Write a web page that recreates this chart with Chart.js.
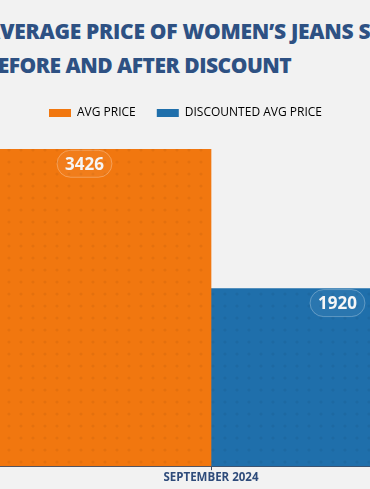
<!DOCTYPE html>
<html>
<head>
<meta charset="utf-8">
<script src="https://cdn.jsdelivr.net/npm/chart.js@4.4.1/dist/chart.umd.min.js"></script>
<style>
  html, body { margin: 0; padding: 0; width: 370px; height: 489px; overflow: hidden; background: #f2f2f2; }
  .title { position: absolute; margin: 0; white-space: nowrap;
           font-family: "Open Sans", sans-serif; font-weight: 800; font-size: 21px; line-height: 30px; color: #2e5183; }
  #t1 { left: -15px; top: 16px; letter-spacing: -0.28px; }
  #t2 { left: -16px; top: 50px; letter-spacing: -0.5px; }
  #wrap { position: absolute; left: -93px; top: 0; width: 557px; height: 489px; }
</style>
</head>
<body>
<div class="title" id="t1">AVERAGE PRICE OF WOMEN’S JEANS STYLES</div>
<div class="title" id="t2">BEFORE AND AFTER DISCOUNT</div>
<div id="wrap"><canvas id="chart"></canvas></div>
<script>
// chart data
const months = ["SEPTEMBER 2024"];
const seriesNames = ["AVG PRICE", "DISCOUNTED AVG PRICE"];
const avgPrice = [3426];
const discountedPrice = [1920];
const colors = ["#f1770f", "#1f6fab"];

// dotted fill like the original bars
function dotted(color) {
  const c = document.createElement("canvas");
  c.width = 12; c.height = 12;
  const g = c.getContext("2d");
  g.fillStyle = color;
  g.fillRect(0, 0, 12, 12);
  g.fillStyle = "rgba(0,0,0,0.05)";
  g.beginPath();
  g.arc(6, 6, 1.6, 0, Math.PI * 2);
  g.fill();
  return g.createPattern(c, "repeat");
}

// value pills near the top of each bar
const valuePills = {
  id: "valuePills",
  afterDatasetsDraw(chart) {
    const ctx = chart.ctx;
    ctx.save();
    ctx.font = "bold 17px 'Open Sans', sans-serif";
    ctx.textAlign = "center";
    ctx.textBaseline = "middle";
    chart.data.datasets.forEach((ds, i) => {
      chart.getDatasetMeta(i).data.forEach((bar, j) => {
        const txt = String(ds.data[j]);
        const w = ctx.measureText(txt).width + 16;
        const h = 27;
        const x = bar.x - w / 2, y = bar.y + 1;
        ctx.beginPath();
        ctx.roundRect(x, y, w, h, h / 2);
        ctx.fillStyle = "rgba(255,255,255,0.05)";
        ctx.fill();
        ctx.strokeStyle = "rgba(255,255,255,0.28)";
        ctx.lineWidth = 1;
        ctx.stroke();
        ctx.fillStyle = "#f6f6f6";
        ctx.fillText(txt, bar.x, y + h / 2 + 1);
      });
    });
    ctx.restore();
  }
};

new Chart(document.getElementById("chart"), {
  type: "bar",
  data: {
    labels: months,
    datasets: [
      { label: seriesNames[0], data: avgPrice, backgroundColor: dotted(colors[0]), borderWidth: 0 },
      { label: seriesNames[1], data: discountedPrice, backgroundColor: dotted(colors[1]), borderWidth: 0 }
    ]
  },
  plugins: [valuePills],
  options: {
    responsive: true,
    maintainAspectRatio: false,
    animation: false,
    layout: { padding: { top: 86, bottom: 3, left: 0, right: 0 } },
    datasets: { bar: { barPercentage: 1, categoryPercentage: 1 } },
    plugins: {
      tooltip: { enabled: false },
      legend: {
        labels: {
          boxWidth: 22, boxHeight: 8, padding: 21, color: "#1a1a1a",
          generateLabels: chart => chart.data.datasets.map((ds, i) => ({
            text: ds.label, fillStyle: colors[i], strokeStyle: colors[i], lineWidth: 0, datasetIndex: i
          })),
          font: { family: "'Open Sans', sans-serif", size: 12 }
        }
      }
    },
    scales: {
      x: {
        grid: { offset: false, drawOnChartArea: false, drawTicks: true, tickLength: 4, color: "#3d4f6a" },
        border: { display: true, color: "#3d4f6a", width: 1 },
        ticks: { color: "#2e4b7a", padding: 1, font: { family: "'Open Sans', sans-serif", size: 11.5, weight: "bold" } }
      },
      y: {
        beginAtZero: true,
        max: 3645,
        ticks: { display: false },
        grid: { display: false },
        border: { display: false },
        afterFit(scale) { scale.width = 51; }
      }
    }
  }
});
</script>
</body>
</html>
